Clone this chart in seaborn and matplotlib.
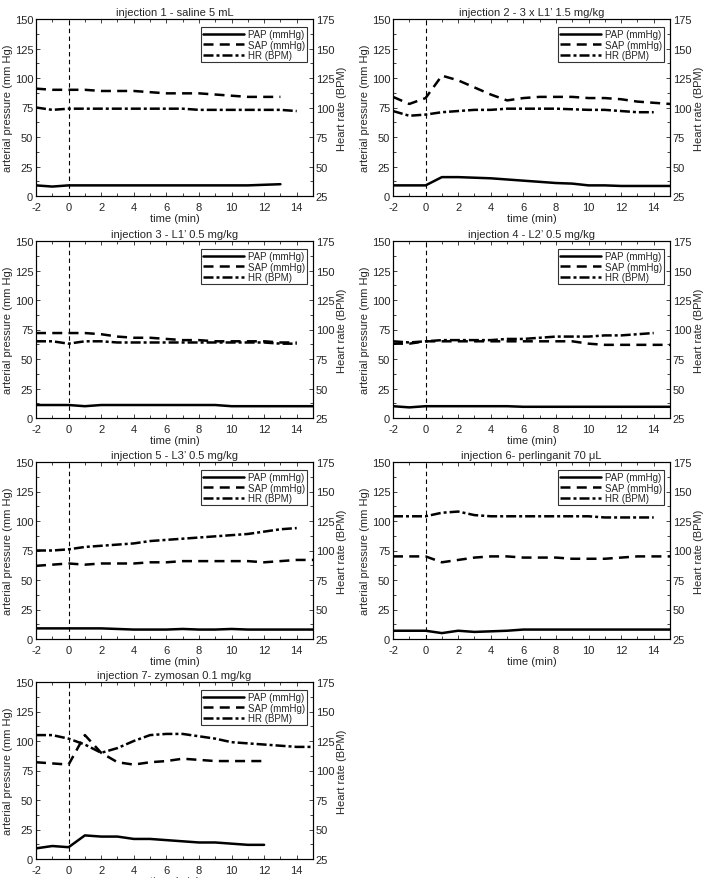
import numpy as np
import pandas as pd
import matplotlib
matplotlib.use("Agg")
import matplotlib.pyplot as plt
from matplotlib.ticker import MultipleLocator
import seaborn as sns

sns.set_style("ticks")
plt.rcParams['font.family'] = ['Liberation Sans', 'DejaVu Sans']
plt.rcParams['axes.unicode_minus'] = False

titles = [
    "injection 1 - saline 5 mL",
    "injection 2 - 3 x L1\u2019 1.5 mg/kg",
    "injection 3 - L1\u2019 0.5 mg/kg",
    "injection 4 - L2\u2019 0.5 mg/kg",
    "injection 5 - L3\u2019 0.5 mg/kg",
    "injection 6- perlinganit 70 \u03bcL",
    "injection 7- zymosan 0.1 mg/kg",
]

time_min = [-2, -1, 0, 1, 2, 3, 4, 5, 6, 7, 8, 9, 10, 11, 12, 13, 14, 15]

pap = [
    [9, 8, 9, 9, 9, 9, 9, 9, 9, 9, 9, 9, 9, 9, 9.5, 10],
    [9, 9, 9, 16, 16, 15.5, 15, 14, 13, 12, 11, 10.5, 9, 9, 8.5, 8.5, 8.5, 8.5],
    [11, 11, 11, 10, 11, 11, 11, 11, 11, 11, 11, 11, 10, 10, 10, 10, 10, 10],
    [10, 9, 10, 10, 10, 10, 10, 10, 9.5, 9.5, 9.5, 9.5, 9.5, 9.5, 9.5, 9.5, 9.5, 9.5],
    [9, 9, 9, 9, 9, 8.5, 8, 8, 8, 8.5, 8, 8, 8.5, 8, 8, 8, 8, 8],
    [7, 7, 7, 5, 7, 6, 6.5, 7, 8, 8, 8, 8, 8, 8, 8, 8, 8, 8],
    [9, 11, 10, 20, 19, 19, 17, 17, 16, 15, 14, 14, 13, 12, 12],
]

sap = [
    [91, 90, 90, 90, 89, 89, 89, 88, 87, 87, 87, 86, 85, 84, 84, 84],
    [84, 78, 83, 102, 98, 92, 86, 81, 83, 84, 84, 84, 83, 83, 82, 80, 79, 78],
    [72, 72, 72, 72, 71, 69, 68, 68, 67, 66, 66, 65, 65, 65, 65, 64, 64],
    [63, 63, 65, 65, 65, 65, 65, 65, 65, 65, 65, 65, 63, 62, 62, 62, 62, 62],
    [62, 63, 64, 63, 64, 64, 64, 65, 65, 66, 66, 66, 66, 66, 65, 66, 67, 67],
    [70, 70, 70, 65, 67, 69, 70, 70, 69, 69, 69, 68, 68, 68, 69, 70, 70, 70],
    [82, 81, 80, 105, 90, 82, 80, 82, 83, 85, 84, 83, 83, 83, 83],
]

hr = [
    [100, 98, 99, 99, 99, 99, 99, 99, 99, 99, 98, 98, 98, 98, 98, 98, 97],
    [97, 93, 94, 96, 97, 98, 98, 99, 99, 99, 99, 98.5, 98, 98, 97, 96, 96],
    [90, 90, 88, 90, 90, 89, 89, 89, 89, 89, 89, 89, 89, 89, 89, 88, 88],
    [90, 89, 90, 91, 91, 91, 91, 92, 92, 93, 94, 94, 94, 95, 95, 96, 97],
    [100, 100, 101, 103, 104, 105, 106, 108, 109, 110, 111, 112, 113, 114, 116, 118, 119],
    [129, 129, 129, 132, 133, 130, 129, 129, 129, 129, 129, 129, 129, 128, 128, 128, 128],
    [130, 130, 127, 122, 115, 119, 125, 130, 131, 131, 129, 127, 124, 123, 122, 121, 120, 120],
]

legend_labels = ["PAP (mmHg)", "SAP (mmHg)", "HR (BPM)"]

W, H = 712, 879
fig = plt.figure(figsize=(W / 100, H / 100), dpi=100)

col_left = [36, 393]
row_top = [20, 242, 463, 683]
ax_w, ax_h = 277, 177

FS = 8
LW = 1.8
sap_dash = (4.0, 2.5)
hr_dash = (4.0, 1.2, 1.2, 1.2)

for i, title in enumerate(titles):
    r, c = divmod(i, 2)
    left = col_left[c] / W
    bottom = 1 - (row_top[r] + ax_h) / H
    ax = fig.add_axes([left, bottom, ax_w / W, ax_h / H])
    ax2 = ax.twinx()

    df_p = pd.DataFrame({"t": time_min[:len(pap[i])], "v": pap[i]})
    df_s = pd.DataFrame({"t": time_min[:len(sap[i])], "v": sap[i]})
    df_h = pd.DataFrame({"t": time_min[:len(hr[i])], "v": hr[i]})

    sns.lineplot(data=df_p, x="t", y="v", ax=ax, color="black", lw=LW)
    l_p = ax.lines[-1]
    sns.lineplot(data=df_s, x="t", y="v", ax=ax, color="black", lw=LW)
    l_s = ax.lines[-1]
    l_s.set_dashes(sap_dash)
    sns.lineplot(data=df_h, x="t", y="v", ax=ax2, color="black", lw=LW)
    l_h = ax2.lines[-1]
    l_h.set_dashes(hr_dash)

    ax.axvline(0, color="black", lw=0.8, ls=(0, (4, 3)))

    ax.set_xlim(-2, 15)
    ax.set_ylim(0, 150)
    ax2.set_ylim(25, 175)
    ax.xaxis.set_major_locator(MultipleLocator(2))
    ax.xaxis.set_minor_locator(MultipleLocator(1))
    ax.yaxis.set_major_locator(MultipleLocator(25))
    ax.yaxis.set_minor_locator(MultipleLocator(12.5))
    ax2.yaxis.set_major_locator(MultipleLocator(25))
    ax2.yaxis.set_minor_locator(MultipleLocator(12.5))

    ax.tick_params(axis="both", which="both", direction="in", labelsize=FS,
                   top=True, length=3, width=0.6, pad=2)
    ax.tick_params(axis="x", which="major", pad=4)
    ax.tick_params(axis="both", which="minor", length=2)
    ax.tick_params(axis="y", right=False)
    ax2.tick_params(axis="y", which="both", direction="in", labelsize=FS,
                    length=3, width=0.6, pad=2)
    ax2.tick_params(axis="y", which="minor", length=2)

    for a in (ax, ax2):
        for s in a.spines.values():
            s.set_linewidth(0.8)
            s.set_color("black")

    ax.set_xlabel("time (min)", fontsize=FS, labelpad=1)
    ax.set_ylabel("arterial pressure (mm Hg)", fontsize=FS, labelpad=1)
    ax2.set_ylabel("Heart rate (BPM)", fontsize=FS, labelpad=2)
    ax.set_title(title, fontsize=FS, pad=3)

    leg = ax2.legend([l_p, l_s, l_h], legend_labels, loc="upper right",
                     fontsize=7, frameon=True, fancybox=False,
                     handlelength=4.2, handletextpad=0.4, borderpad=0.2,
                     labelspacing=0.05, borderaxespad=0.5,
                     bbox_to_anchor=(0.995, 0.98))
    leg.get_frame().set_edgecolor("black")
    leg.get_frame().set_linewidth(0.8)

fig.savefig("out.png", dpi=100)
